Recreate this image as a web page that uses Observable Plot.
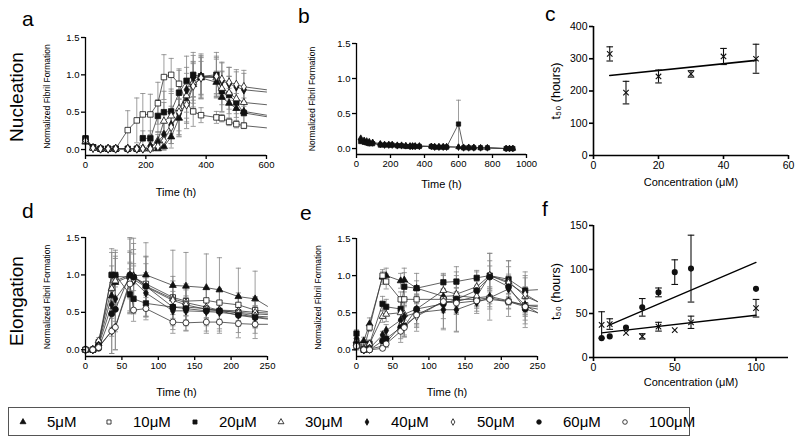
<!DOCTYPE html>
<html><head><meta charset="utf-8">
<script src="https://cdn.jsdelivr.net/npm/d3@7"></script>
<script src="https://cdn.jsdelivr.net/npm/@observablehq/plot@0.6"></script>
<style>
body{margin:0;background:#fff;font-family:"Liberation Sans",Arial,sans-serif;}
#wrap{position:relative;width:800px;height:441px;overflow:hidden;background:#fff;}
.letter{position:absolute;font-size:21px;line-height:1;color:#000;}
.row{position:absolute;font-size:19px;line-height:1;white-space:nowrap;transform:translate(-50%,-50%) rotate(-90deg);color:#000;}
#legend{position:absolute;left:8px;top:407px;width:682px;height:29px;border:1px solid #555;box-sizing:border-box;}
.lgItem{position:absolute;top:0;height:27px;display:flex;align-items:center;font-size:15px;color:#000;}
</style>
</head><body>
<div id="wrap"></div>
<script>
// ---------- shared categories ----------
const concs = [5,10,20,30,40,50,60,100];
const legendLabels = ["5μM","10μM","20μM","30μM","40μM","50μM","60μM","100μM"];
const symbolNames = ["triangle","square","square","triangle","diamond","diamond","circle","circle"];
const symbolFilled = [true,false,true,false,true,false,true,false];

// ---------- panel a: nucleation kinetics ----------
const aConcs = [5,10,20,30,40,50];
const aTime = [0,25,50,75,100,140,170,190,215,240,260,284,310,335,357,383,434,452,476,500,525];
const aVals = [
  [0.10,0.02,0.01,0.01,0.01,0.01,0.01,0.01,0.01,0.01,0.04,0.17,0.42,0.65,0.87,0.96,0.90,0.70,0.62,0.55,0.51],
  [0.14,0.03,0.01,0.01,0.01,0.26,0.39,0.47,0.47,0.62,0.97,1.00,0.88,0.62,0.51,0.46,0.43,0.42,0.37,0.34,0.32],
  [0.15,0.03,0.01,0.01,0.01,0.01,0.01,0.15,0.15,0.45,0.50,0.51,0.76,0.92,1.00,0.98,1.00,0.78,0.73,0.63,0.49],
  [0.11,0.02,0.01,0.01,0.01,0.01,0.01,0.01,0.01,0.12,0.38,0.45,0.55,0.72,0.90,0.98,0.96,0.82,0.76,0.68,0.63],
  [0.13,0.02,0.01,0.01,0.01,0.01,0.01,0.01,0.05,0.10,0.20,0.33,0.48,0.80,0.96,0.98,0.97,0.92,0.88,0.84,0.80],
  [0.12,0.02,0.01,0.01,0.01,0.01,0.01,0.01,0.01,0.04,0.12,0.30,0.50,0.60,0.85,0.96,0.98,0.94,0.90,0.87,0.84]
];
const aErrs = [
  [0.02,0.01,0,0,0,0,0,0,0,0.02,0.05,0.15,0.25,0.30,0.30,0.22,0.15,0.20,0.20,0.20,0.18],
  [0.03,0.01,0,0,0,0.26,0.30,0.28,0.27,0.28,0.30,0.22,0.20,0.25,0.20,0.10,0.08,0.05,0.05,0.05,0.04],
  [0.03,0.01,0,0,0,0,0,0.10,0.10,0.22,0.28,0.30,0.30,0.33,0.30,0.28,0.30,0.27,0.25,0.20,0.15],
  [0.02,0.01,0,0,0,0,0,0,0,0.12,0.25,0.30,0.30,0.30,0.28,0.25,0.25,0.22,0.22,0.20,0.18],
  [0.03,0.01,0,0,0,0,0,0,0.05,0.10,0.15,0.25,0.30,0.30,0.30,0.30,0.28,0.25,0.22,0.20,0.22],
  [0.02,0.01,0,0,0,0,0,0,0,0.05,0.12,0.22,0.30,0.32,0.30,0.28,0.25,0.22,0.20,0.20,0.22]
];
const aEdge = [0.46,0.29,0.44,0.60,0.77,0.80];

// ---------- panel b: nucleation (flat) ----------
const bConcs = [5,40,20];
const bTime = [25,45,60,75,95,140,165,190,210,240,265,290,315,330,345,370,440,460,485,510,530,600,630,660,690,730,770,880,900,920];
const bVals = [
  [0.15,0.12,0.11,0.10,0.09,0.07,0.06,0.06,0.06,0.05,0.05,0.04,0.04,0.04,0.04,0.04,0.03,0.03,0.03,0.03,0.03,0.02,0.02,0.02,0.02,0.01,0.01,0.00,0.00,0.00],
  [0.12,0.10,0.09,0.08,0.08,0.06,0.05,0.05,0.05,0.04,0.04,0.04,0.03,0.03,0.03,0.03,0.03,0.02,0.02,0.02,0.02,0.02,0.01,0.01,0.01,0.01,0.01,0.00,0.00,0.00],
  [0.10,0.09,0.08,0.07,0.07,0.05,0.05,0.05,0.05,0.04,0.04,0.03,0.03,0.03,0.03,0.03,0.03,0.02,0.02,0.02,0.02,0.35,0.01,0.01,0.01,0.01,0.01,0.00,0.00,0.00]
];
const bErrs = [
  null,
  null,
  [0,0,0,0,0,0,0,0,0,0,0,0,0,0,0,0,0,0,0,0,0,0.34,0,0,0,0,0,0,0,0]
];

// ---------- panel c: t50 nucleation ----------
const cConc = [5,10,20,30,40,50];
const cT50 = [315,195,245,253,307,300];
const cErr = [22,35,20,10,25,45];
const cFitX = [5,50];
const cFitY = [248,295];

// ---------- panel d: elongation ----------
const dConcs = [5,10,20,30,40,50,60,100];
const dTime = [0,10,18,36,41,61,66,83,120,138,166,184,210,233];
const dVals = [
  [0,0,0.08,0.72,0.90,0.98,0.99,1.00,0.86,0.85,0.83,0.80,0.71,0.68],
  [0,0,0.10,1.00,0.98,0.97,0.97,0.88,0.70,0.65,0.66,0.63,0.60,0.53],
  [0,0,0.05,1.00,1.00,0.74,0.68,0.62,0.57,0.57,0.55,0.52,0.50,0.48],
  [0,0,0.12,0.82,0.92,1.00,0.98,0.85,0.68,0.63,0.57,0.53,0.52,0.50],
  [0,0,0.06,0.60,0.68,0.95,0.92,0.76,0.52,0.52,0.51,0.50,0.47,0.44],
  [0,0,0.04,0.25,0.30,0.92,0.94,0.84,0.66,0.60,0.54,0.53,0.49,0.45],
  [0,0,0.02,0.48,0.54,1.00,0.97,0.85,0.57,0.55,0.52,0.52,0.46,0.43],
  [0,0,0.03,0.25,0.30,0.88,0.53,0.55,0.37,0.36,0.37,0.37,0.35,0.34]
];
const dErrs = [
  [0,0,0.03,0.30,0.35,0.50,0.50,0.43,0.47,0.45,0.45,0.43,0.38,0.37],
  [0,0,0.03,0.30,0.35,0.20,0.18,0.15,0.15,0.15,0.15,0.15,0.12,0.12],
  [0,0,0.02,0.35,0.30,0.25,0.20,0.18,0.15,0.12,0.12,0.12,0.12,0.10],
  [0,0,0.04,0.30,0.30,0.30,0.30,0.30,0.30,0.25,0.25,0.25,0.20,0.20],
  [0,0,0.03,0.30,0.30,0.20,0.20,0.20,0.20,0.20,0.15,0.15,0.15,0.15],
  [0,0,0.02,0.30,0.30,0.40,0.40,0.40,0.12,0.10,0.12,0.12,0.10,0.10],
  [0,0,0.02,0.30,0.30,0.50,0.45,0.40,0.35,0.30,0.30,0.30,0.30,0.28],
  [0,0,0.02,0.30,0.30,0.20,0.15,0.15,0.10,0.10,0.12,0.12,0.12,0.12]
];
const dEdge = [0.58,0.51,0.47,0.49,0.42,0.44,0.41,0.34];

// ---------- panel e: elongation ----------
const eConcs = [5,10,20,30,40,50,60,100];
const eTime = [0,10,18,36,41,61,66,83,120,138,166,184,210,233];
const eVals = [
  [0.08,0.12,0.35,0.98,1.00,0.93,0.94,0.83,0.72,0.73,0.70,0.72,0.66,0.60],
  [0.05,0.00,0.30,1.00,0.92,0.68,0.68,0.68,0.68,0.68,0.68,0.70,0.65,0.60],
  [0.22,0.00,0.08,0.62,0.58,0.55,0.85,0.83,0.91,0.92,0.97,1.00,0.95,0.80],
  [0.12,0.02,0.08,0.45,0.48,0.50,0.48,0.55,0.80,0.75,0.85,1.00,0.92,0.72],
  [0.15,0.00,0.02,0.20,0.26,0.40,0.45,0.50,0.54,0.54,0.64,0.70,0.82,0.60],
  [0.10,0.00,0.01,0.05,0.10,0.32,0.33,0.45,0.65,0.65,0.72,1.00,0.90,0.75],
  [0.08,0.00,0.00,0.12,0.15,0.30,0.32,0.55,0.62,0.68,0.80,0.98,0.85,0.55],
  [0.05,0.00,0.00,0.02,0.08,0.25,0.30,0.47,0.65,0.63,0.66,0.68,0.65,0.58]
];
const eErrs = [
  [0.05,0.05,0.08,0.10,0.10,0.10,0.10,0.10,0.10,0.10,0.10,0.10,0.10,0.10],
  [0.05,0.02,0.05,0.05,0.10,0.10,0.10,0.15,0.10,0.10,0.10,0.30,0.20,0.20],
  [0.05,0.02,0.05,0.10,0.10,0.15,0.25,0.20,0.10,0.20,0.10,0.30,0.25,0.20],
  [0.05,0.02,0.05,0.08,0.10,0.15,0.15,0.20,0.20,0.25,0.20,0.20,0.20,0.25],
  [0.05,0.02,0.03,0.05,0.08,0.10,0.15,0.20,0.25,0.30,0.15,0.15,0.20,0.25],
  [0.05,0.02,0.03,0.03,0.05,0.10,0.15,0.20,0.38,0.40,0.20,0.30,0.30,0.30],
  [0.05,0.02,0.02,0.03,0.05,0.20,0.15,0.20,0.20,0.20,0.15,0.15,0.15,0.25],
  [0.05,0.02,0.02,0.02,0.05,0.10,0.10,0.15,0.15,0.15,0.10,0.10,0.10,0.10]
];
const eEdge = [0.58,0.60,0.81,0.65,0.50,0.65,0.50,0.55];

// ---------- panel f: t50 elongation ----------
const fConc = [5,10,20,30,40,50,60,100];
const fT50A = [22,24,34,57,74,97,101,78];
const fErrA = [0,0,0,10,5,14,38,0];
const fT50B = [37,38,28,24,35,31,40,56];
const fErrB = [15,6,0,3,5,0,7,10];
const fFitAX = [10,100], fFitAY = [37,108];
const fFitBX = [5,100], fFitBY = [28,48];

// ---------- tick labels ----------
const ticksA = [0,200,400,600];
const ticksB = [0,200,400,600,800,1000];
const ticksDE = [0,50,100,150,200,250];
const ticksNorm = [0,0.5,1.0,1.5];
const ticksCX = [0,20,40,60];
const ticksCY = [0,100,200,300,400];
const ticksFX = [0,50,100];
const ticksFY = [0,50,100,150];

// ---------- helpers ----------
const FONT = '"Liberation Sans", Arial, Helvetica, sans-serif';
const capSymbol = {draw(ctx, size){ const w = Math.sqrt(size/Math.PI); ctx.moveTo(-w,0); ctx.lineTo(w,0); }};
const wrap = document.getElementById("wrap");

function place(svg, left, top){
  svg.style.position = "absolute";
  svg.style.left = left + "px";
  svg.style.top = top + "px";
  wrap.appendChild(svg);
}

function axes(o){
  return [
    Plot.ruleY([o.yDomain[0]], {stroke:"#000", strokeWidth:o.axisW}),
    Plot.ruleX([o.xDomain[0]], {stroke:"#000", strokeWidth:o.axisW}),
    Plot.axisX({ticks:o.xTicks, tickSize:4, tickPadding:2, label:null, tickFormat:d3.format("d"), anchor:"bottom", strokeWidth:o.axisW}),
    Plot.axisY({ticks:o.yTicks, tickSize:4, tickPadding:2, label:null, tickFormat:o.yFmt, anchor:"left", strokeWidth:o.axisW}),
    Plot.text([o.xLabel], {frameAnchor:"bottom", dy:o.xLabelDy, fontSize:o.xLabelSize, fill:"#000", textAnchor:"middle", lineAnchor:"middle"}),
    Plot.text([o.yLabel], {frameAnchor:"left", dx:o.yLabelDx, rotate:-90, fontSize:o.yLabelSize, fill:"#000", textAnchor:"middle", lineAnchor:"middle"})
  ];
}

function timePanel(o){
  const marks = [];
  const seriesPts = o.vals.map((vals, k) => o.time.map((t, i) => ({t, v: vals[i], e: o.errs[k] ? o.errs[k][i] : 0})));
  seriesPts.forEach(pts => {
    const we = pts.filter(d => d.e > 0);
    marks.push(Plot.ruleX(we, {x:"t", y1:d => d.v - d.e, y2:d => d.v + d.e, stroke:"#858585", strokeWidth:0.8}));
    marks.push(Plot.dot(we, {x:"t", y:d => d.v + d.e, symbol:capSymbol, r:o.capR, stroke:"#858585", strokeWidth:0.8}));
    marks.push(Plot.dot(we, {x:"t", y:d => d.v - d.e, symbol:capSymbol, r:o.capR, stroke:"#858585", strokeWidth:0.8}));
  });
  seriesPts.forEach((pts, k) => {
    const linePts = o.edge ? pts.concat([{t:o.xDomain[1], v:o.edge[k]}]) : pts;
    marks.push(Plot.line(linePts, {x:"t", y:"v", stroke:"#3a3a3a", strokeWidth:0.8}));
  });
  seriesPts.forEach((pts, k) => {
    const ci = concs.indexOf(o.concs[k]);
    const sym = symbolNames[ci];
    const rr = o.r * (sym === "triangle" ? 0.85 : sym === "diamond" ? 0.85 : 1);
    marks.push(Plot.dot(pts, {x:"t", y:"v", symbol:sym, r:rr, fill:symbolFilled[ci] ? "#111" : "#fff", stroke:"#111", strokeWidth:0.8}));
  });
  return Plot.plot({
    width:o.width, height:o.height,
    marginLeft:o.ml, marginRight:o.mr, marginTop:o.mt, marginBottom:o.mb,
    x:{domain:o.xDomain}, y:{domain:o.yDomain},
    style:{fontFamily:FONT, fontSize:"9.5px", color:"#000", background:"transparent", overflow:"visible"},
    marks:[...marks, ...axes(o)]
  });
}

const normLabel = "Normalized Fibril Formation";

// panel a
place(timePanel({
  width:275, height:200, ml:85, mr:9, mt:37, mb:45,
  xDomain:[0,600], yDomain:[-0.08,1.5], xTicks:ticksA, yTicks:ticksNorm, yFmt:d3.format(".1f"),
  concs:aConcs, time:aTime, vals:aVals, errs:aErrs, edge:aEdge, r:3.1, capR:2.6, axisW:1.3,
  xLabel:"Time (h)", xLabelDy:37, xLabelSize:11, yLabel:normLabel, yLabelDx:-38, yLabelSize:8.5
}), 0, 0);

// panel b
place(timePanel({
  width:270, height:200, ml:86, mr:14, mt:43, mb:46,
  xDomain:[0,1000], yDomain:[-0.085,1.5], xTicks:ticksB, yTicks:ticksNorm, yFmt:d3.format(".1f"),
  concs:bConcs, time:bTime, vals:bVals, errs:bErrs, edge:null, r:2.4, capR:2.4, axisW:1.3,
  xLabel:"Time (h)", xLabelDy:30, xLabelSize:11, yLabel:normLabel, yLabelDx:-44, yLabelSize:8.5
}), 270, 0);

// panel d
place(timePanel({
  width:275, height:200, ml:85, mr:8, mt:37, mb:44,
  xDomain:[0,250], yDomain:[-0.09,1.5], xTicks:ticksDE, yTicks:ticksNorm, yFmt:d3.format(".1f"),
  concs:dConcs, time:dTime, vals:dVals, errs:dErrs, edge:dEdge, r:3.0, capR:2.6, axisW:1.3,
  xLabel:"Time (h)", xLabelDy:36, xLabelSize:11, yLabel:normLabel, yLabelDx:-38, yLabelSize:8.5
}), 0, 200);

// panel e
place(timePanel({
  width:275, height:200, ml:86, mr:8, mt:38, mb:44,
  xDomain:[0,250], yDomain:[-0.09,1.5], xTicks:ticksDE, yTicks:ticksNorm, yFmt:d3.format(".1f"),
  concs:eConcs, time:eTime, vals:eVals, errs:eErrs, edge:eEdge, r:3.0, capR:2.6, axisW:1.3,
  xLabel:"Time (h)", xLabelDy:36, xLabelSize:11, yLabel:normLabel, yLabelDx:-38, yLabelSize:8.5
}), 270, 200);

// panel c
{
  const pts = cConc.map((c, i) => ({c, v:cT50[i], e:cErr[i]}));
  const fit = cFitX.map((x, i) => ({c:x, v:cFitY[i]}));
  const o = {xDomain:[0,60], yDomain:[0,400], xTicks:ticksCX, yTicks:ticksCY, yFmt:d3.format("d"), axisW:1.6,
    xLabel:"Concentration (μM)", xLabelDy:27, xLabelSize:11, yLabel:"t₅₀ (hours)", yLabelDx:-38, yLabelSize:12.5};
  place(Plot.plot({
    width:260, height:200, marginLeft:53, marginRight:12, marginTop:26, marginBottom:45,
    x:{domain:o.xDomain}, y:{domain:o.yDomain},
    style:{fontFamily:FONT, fontSize:"10.5px", color:"#000", background:"transparent", overflow:"visible"},
    marks:[
      Plot.line(fit, {x:"c", y:"v", stroke:"#000", strokeWidth:1.6}),
      Plot.ruleX(pts, {x:"c", y1:d => d.v - d.e, y2:d => d.v + d.e, stroke:"#111", strokeWidth:1.1}),
      Plot.dot(pts, {x:"c", y:d => d.v + d.e, symbol:capSymbol, r:3.3, stroke:"#111", strokeWidth:1.1}),
      Plot.dot(pts, {x:"c", y:d => d.v - d.e, symbol:capSymbol, r:3.3, stroke:"#111", strokeWidth:1.1}),
      Plot.dot(pts, {x:"c", y:"v", symbol:"times", r:2.6, stroke:"#111", strokeWidth:1.1}),
      ...axes(o)
    ]
  }), 540, 0);
}

// panel f
{
  const ptsA = fConc.map((c, i) => ({c, v:fT50A[i], e:fErrA[i]}));
  const ptsB = fConc.map((c, i) => ({c, v:fT50B[i], e:fErrB[i]}));
  const fitA = fFitAX.map((x, i) => ({c:x, v:fFitAY[i]}));
  const fitB = fFitBX.map((x, i) => ({c:x, v:fFitBY[i]}));
  const eb = pts => {
    const we = pts.filter(d => d.e > 0);
    return [
      Plot.ruleX(we, {x:"c", y1:d => d.v - d.e, y2:d => d.v + d.e, stroke:"#111", strokeWidth:1.1}),
      Plot.dot(we, {x:"c", y:d => d.v + d.e, symbol:capSymbol, r:3.3, stroke:"#111", strokeWidth:1.1}),
      Plot.dot(we, {x:"c", y:d => d.v - d.e, symbol:capSymbol, r:3.3, stroke:"#111", strokeWidth:1.1})
    ];
  };
  const o = {xDomain:[0,120], yDomain:[0,150], xTicks:ticksFX, yTicks:ticksFY, yFmt:d3.format("d"), axisW:1.6,
    xLabel:"Concentration (μM)", xLabelDy:25, xLabelSize:11, yLabel:"t₅₀ (hours)", yLabelDx:-38, yLabelSize:12.5};
  place(Plot.plot({
    width:260, height:200, marginLeft:53, marginRight:12, marginTop:25, marginBottom:43,
    x:{domain:o.xDomain}, y:{domain:o.yDomain},
    style:{fontFamily:FONT, fontSize:"10.5px", color:"#000", background:"transparent", overflow:"visible"},
    marks:[
      Plot.line(fitA, {x:"c", y:"v", stroke:"#000", strokeWidth:1.3}),
      Plot.line(fitB, {x:"c", y:"v", stroke:"#000", strokeWidth:1.3}),
      ...eb(ptsA), ...eb(ptsB),
      Plot.dot(ptsA, {x:"c", y:"v", symbol:"circle", r:2.3, fill:"#111", stroke:"#111"}),
      Plot.dot(ptsB, {x:"c", y:"v", symbol:"times", r:2.6, stroke:"#111", strokeWidth:1.1}),
      ...axes(o)
    ]
  }), 540, 200);
}

// ---------- letters & row labels ----------
const letters = [["a",22,8],["b",298,5],["c",545,3],["d",22,200],["e",300,202],["f",542,198]];
letters.forEach(([t, x, y]) => {
  const el = document.createElement("div");
  el.className = "letter"; el.textContent = t;
  el.style.left = x + "px"; el.style.top = y + "px";
  wrap.appendChild(el);
});
const rowLabels = [["Nucleation",16,97],["Elongation",16,301]];
rowLabels.forEach(([t, x, y]) => {
  const el = document.createElement("div");
  el.className = "row"; el.textContent = t;
  el.style.left = x + "px"; el.style.top = y + "px";
  wrap.appendChild(el);
});

// ---------- legend ----------
const legend = document.createElement("div");
legend.id = "legend";
wrap.appendChild(legend);
concs.forEach((c, i) => {
  const item = document.createElement("div");
  item.className = "lgItem";
  item.style.left = (9 + 86 * i) + "px";
  const sym = symbolNames[i];
  const size = (sym === "triangle" ? 2.2 : sym === "diamond" ? 2.0 : 2.3) ** 2 * Math.PI;
  const p = d3.symbol(d3["symbol" + sym[0].toUpperCase() + sym.slice(1)], size)();
  const ns = "http://www.w3.org/2000/svg";
  const svg = document.createElementNS(ns, "svg");
  svg.setAttribute("width", 10); svg.setAttribute("height", 10);
  svg.style.marginRight = "19px";
  const path = document.createElementNS(ns, "path");
  path.setAttribute("d", p);
  path.setAttribute("transform", "translate(5,5)");
  path.setAttribute("fill", symbolFilled[i] ? "#111" : "#fff");
  path.setAttribute("stroke", "#111");
  path.setAttribute("stroke-width", "0.8");
  svg.appendChild(path);
  item.appendChild(svg);
  const span = document.createElement("span");
  span.textContent = legendLabels[i];
  item.appendChild(span);
  legend.appendChild(item);
});
</script>
</body></html>
